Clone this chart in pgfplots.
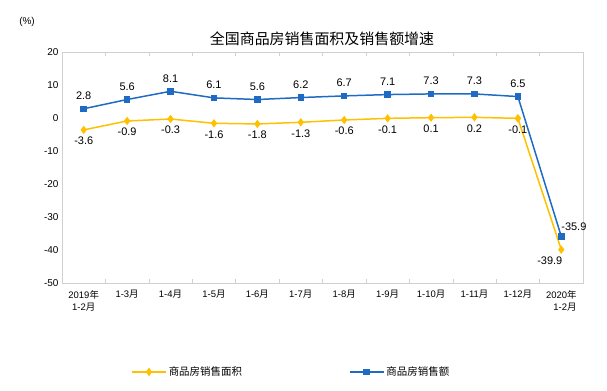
\documentclass[border=0pt]{standalone}
\usepackage{pgfplots}
\pgfplotsset{compat=1.18}
\usepackage{fontspec}
\setmainfont{Liberation Sans}
\newfontfamily\cjk{Noto Sans CJK SC}
\definecolor{cy}{HTML}{FFC000}
\definecolor{cb}{HTML}{1F6BC4}
\definecolor{fr}{HTML}{D0D0D0}
\begin{document}
\begin{tikzpicture}[x=1bp,y=1bp]
\useasboundingbox (0,0) rectangle (607,390);
\begin{axis}[
  at={(62bp,107bp)}, anchor=south west,
  width=521bp, height=231bp, scale only axis,
  xmin=-0.5, xmax=11.5, ymin=-50, ymax=20,
  ytick={-50,-40,...,20},
  xtick={0,...,11},
  xticklabels={{2019{\cjk 年}\\1-2{\cjk 月}},{1-3\cjk 月},{1-4\cjk 月},{1-5\cjk 月},{1-6\cjk 月},{1-7\cjk 月},{1-8\cjk 月},{1-9\cjk 月},{1-10\cjk 月},{1-11\cjk 月},{1-12\cjk 月},{2020{\cjk 年}\\\hfill 1-2{\cjk 月}}},
  xticklabel style={align=center, font=\fontsize{9.5}{12}\selectfont, anchor=north, yshift=-4bp},
  yticklabel style={font=\fontsize{10}{12}\selectfont},
  major tick length=0pt,
  minor xtick={-0.5,0.5,...,11.5},
  minor tick length=4bp,
  minor tick style={fr},
  axis line style={fr},
  every tick/.style={fr},
  /pgf/number format/assume math mode=true,
  point meta=explicit symbolic,
  nodes near coords={\pgfplotspointmeta},
  nodes near coords style={font=\fontsize{11}{13}\selectfont, black},
  legend style={at={(0.44,-0.385)}, anchor=center, draw=none, legend columns=2,
    font=\cjk\fontsize{10.5}{12}\selectfont, /tikz/every even column/.append style={column sep=105bp}},
  legend image code/.code={\draw[#1] (0bp,0bp) -- (34bp,0bp); \draw[#1, only marks] plot coordinates {(17bp,0bp)};},
  clip=false,
]
\addplot[cy, line width=1.5pt, mark=diamond*, mark size=3pt, mark options={fill=cy},
  nodes near coords style={anchor=north, yshift=-3bp}]
  coordinates {(0,-3.6)[-3.6] (1,-0.9)[-0.9] (2,-0.3)[-0.3] (3,-1.6)[-1.6] (4,-1.8)[-1.8] (5,-1.3)[-1.3] (6,-0.6)[-0.6] (7,-0.1)[-0.1] (8,0.1)[0.1] (9,0.2)[0.2] (10,-0.1)[-0.1]};
\addlegendentry{商品房销售面积}
\addplot[cb, line width=1.5pt, mark=square*, mark size=2.5pt, mark options={fill=cb},
  nodes near coords style={anchor=south, yshift=5bp}]
  coordinates {(0,2.8)[2.8] (1,5.6)[5.6] (2,8.1)[8.1] (3,6.1)[6.1] (4,5.6)[5.6] (5,6.2)[6.2] (6,6.7)[6.7] (7,7.1)[7.1] (8,7.3)[7.3] (9,7.3)[7.3] (10,6.5)[6.5]};
\addlegendentry{商品房销售额}
\addplot[cy, line width=1.5pt, mark=diamond*, mark size=3pt, mark options={fill=cy},
  nodes near coords style={anchor=north east, xshift=5bp, yshift=-3bp}, forget plot]
  coordinates {(10,-0.1)[] (11,-39.9)[-39.9]};
\addplot[cb, line width=1.5pt, mark=square*, mark size=2.5pt, mark options={fill=cb},
  nodes near coords style={anchor=south west, xshift=-4bp, yshift=2bp}, forget plot]
  coordinates {(10,6.5)[] (11,-35.9)[-35.9]};
\end{axis}
\node[font=\fontsize{10}{12}\selectfont] at (27,368) {(\%)};
\node[font=\cjk\fontsize{15}{17}\selectfont] at (322,351) {全国商品房销售面积及销售额增速};
\end{tikzpicture}
\end{document}
